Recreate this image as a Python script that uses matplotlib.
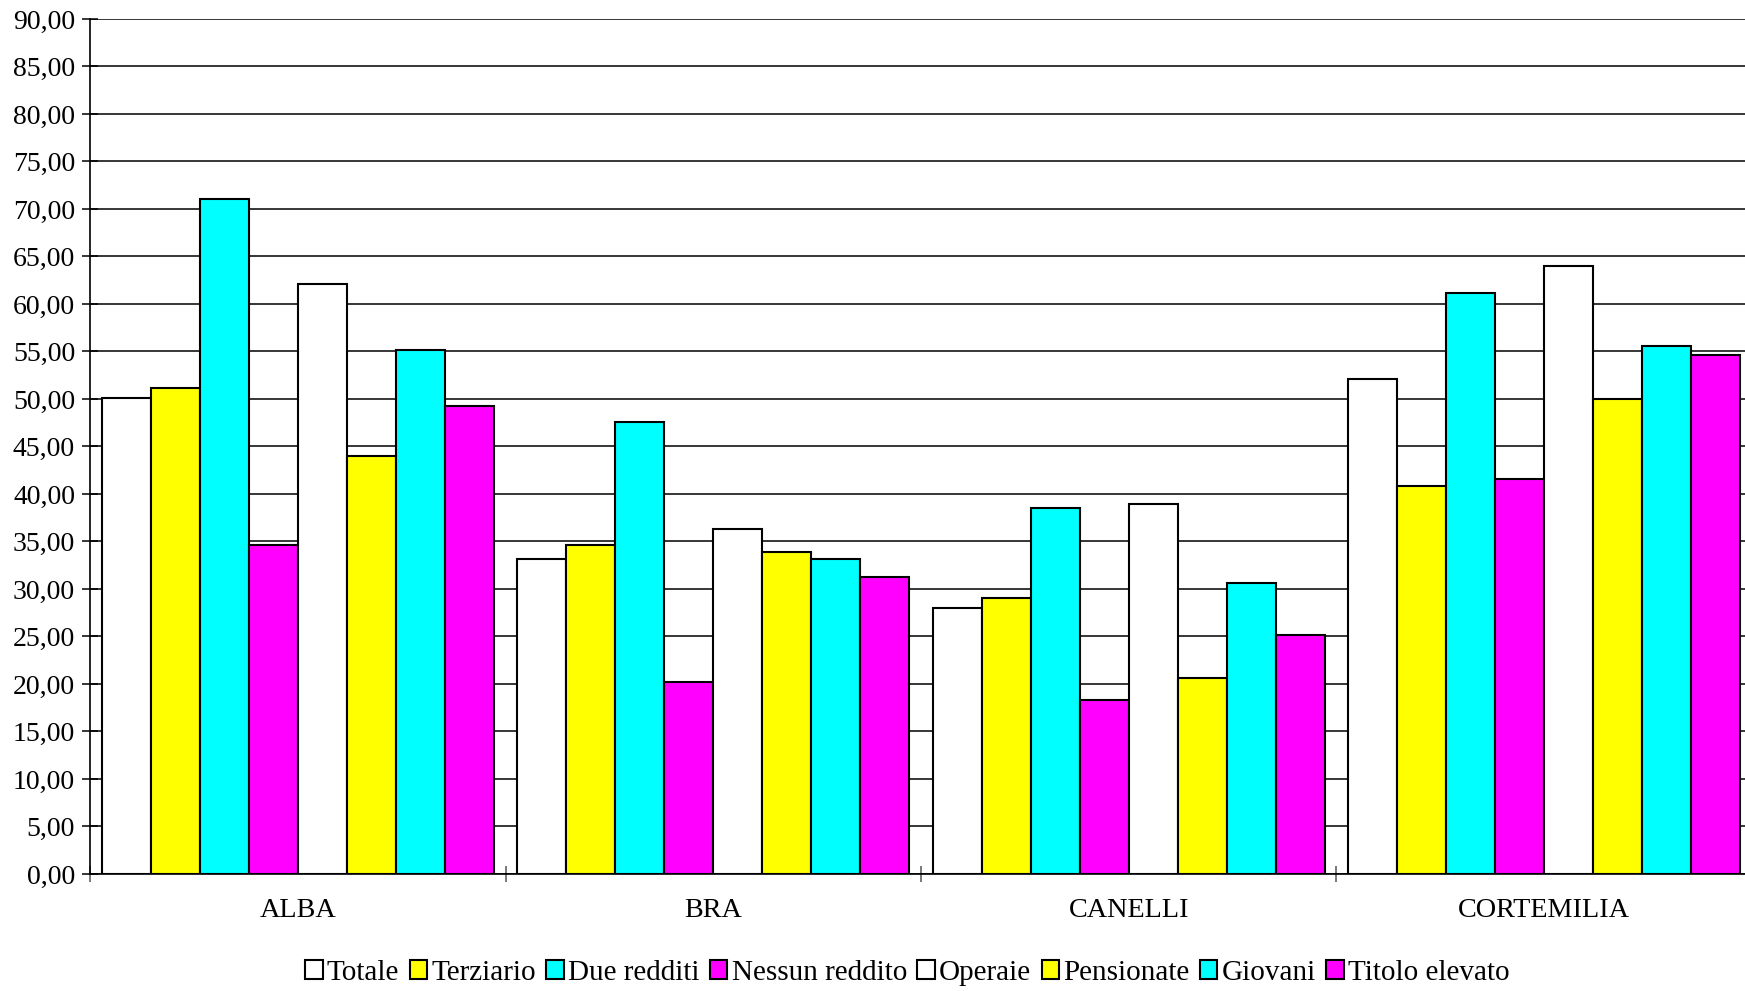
import matplotlib
matplotlib.use("Agg")
import matplotlib.pyplot as plt
import numpy as np
from matplotlib.patches import Patch
from matplotlib.ticker import FuncFormatter, FixedLocator

plt.rcParams['font.family'] = ['Liberation Serif', 'DejaVu Serif']

comuni = ["ALBA", "BRA", "CANELLI", "CORTEMILIA"]
serie = ["Totale", "Terziario", "Due redditi", "Nessun reddito",
         "Operaie", "Pensionate", "Giovani", "Titolo elevato"]
colori = ["#FFFFFF", "#FFFF00", "#00FFFF", "#FF00FF",
          "#FFFFFF", "#FFFF00", "#00FFFF", "#FF00FF"]

totale = [50.1, 33.2, 28.0, 52.1]
terziario = [51.2, 34.6, 29.1, 40.8]
due_redditi = [71.0, 47.6, 38.5, 61.2]
nessun_reddito = [34.6, 20.2, 18.3, 41.6]
operaie = [62.1, 36.3, 38.9, 64.0]
pensionate = [44.0, 33.9, 20.6, 50.0]
giovani = [55.2, 33.2, 30.6, 55.6]
titolo_elevato = [49.3, 31.3, 25.2, 54.6]

valori = [totale, terziario, due_redditi, nessun_reddito,
          operaie, pensionate, giovani, titolo_elevato]

fig = plt.figure(figsize=(17.45, 9.91), dpi=100)
ax = fig.add_axes([0.0516, 0.1181, 0.9524, 0.8628])

n = len(serie)
group_w = 0.9425
bw = group_w / n
x = np.arange(len(comuni))

for i, (vals, col) in enumerate(zip(valori, colori)):
    pos = x - group_w / 2 + bw * (i + 0.5)
    ax.bar(pos, vals, width=bw, color=col, edgecolor="black",
           linewidth=1.5, zorder=3)

ax.set_xlim(-0.5, len(comuni) - 0.5)
ax.set_ylim(0, 90)
ax.set_yticks(np.arange(0, 90.1, 5))
ax.yaxis.set_major_formatter(FuncFormatter(lambda v, p: f"{v:.2f}".replace(".", ",")))
ax.yaxis.grid(True, color="black", linewidth=1.1, zorder=0)

# category boundaries as major ticks, names on minor ticks
ax.xaxis.set_major_locator(FixedLocator(np.arange(-0.5, len(comuni), 1.0)))
ax.xaxis.set_major_formatter(FuncFormatter(lambda v, p: ""))
ax.xaxis.set_minor_locator(FixedLocator(x))
ax.set_xticklabels(comuni, minor=True)

ax.tick_params(axis="y", which="major", direction="inout", length=11.5,
               width=1.1, labelsize=20, pad=5)
ax.tick_params(axis="x", which="major", direction="inout", length=11,
               width=1.1, color="#555555")
ax.tick_params(axis="x", which="minor", length=0, labelsize=20.3, pad=17.5)

for s in ["top", "right"]:
    ax.spines[s].set_visible(False)
for s in ["left", "bottom"]:
    ax.spines[s].set_linewidth(1.2)

handles = [Patch(facecolor=c, edgecolor="black", linewidth=1.5) for c in colori]
fig.legend(handles, serie, loc="center", bbox_to_anchor=(0.52, 1 - 973 / 991),
           ncol=n, frameon=False, fontsize=21, handlelength=0.6,
           handleheight=0.6, handletextpad=0.15, columnspacing=0.35,
           borderaxespad=0)

fig.savefig("out.png", dpi=100)
